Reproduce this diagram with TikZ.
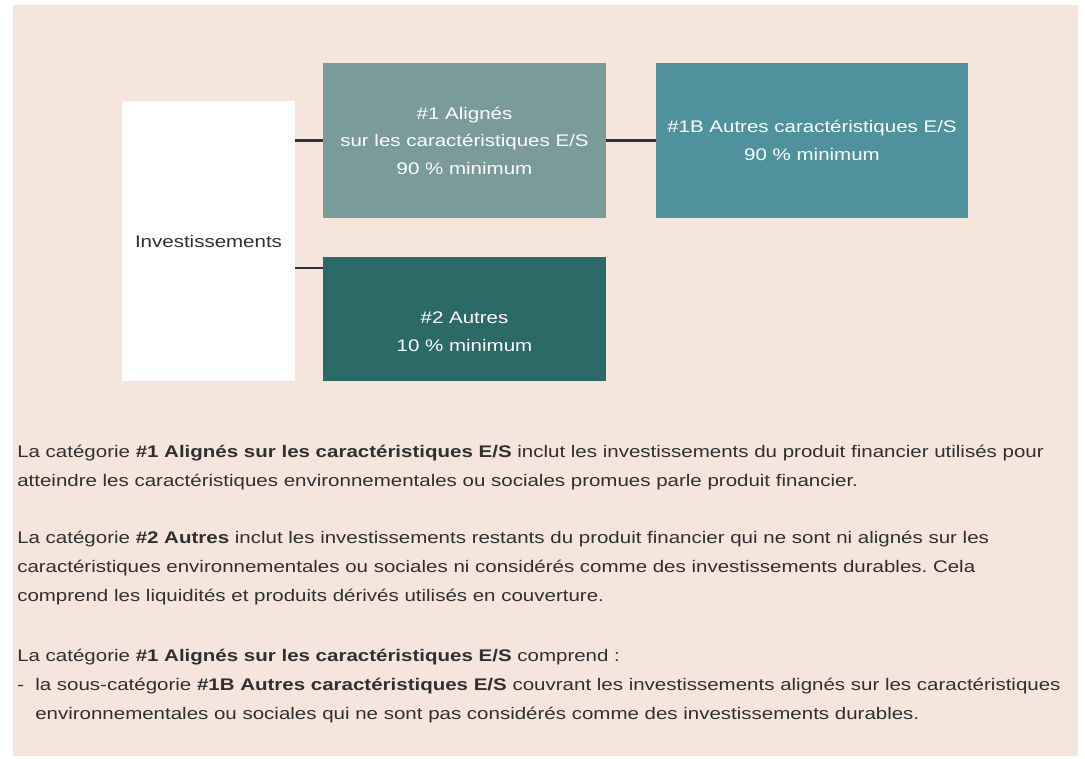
\documentclass[tikz,border=0pt]{standalone}
\usepackage{fontspec}
\setmainfont{Liberation Sans}[FakeStretch=1.22]
\frenchspacing
\definecolor{pagepink}{RGB}{245,229,221}
\definecolor{boxgrey}{RGB}{122,155,154}
\definecolor{boxteal}{RGB}{80,146,156}
\definecolor{boxdark}{RGB}{44,106,103}
\definecolor{inktext}{RGB}{48,48,48}
\definecolor{linkline}{RGB}{48,48,66}

\begin{document}
\begin{tikzpicture}[x=0.75pt,y=0.75pt,yscale=-1,xscale=1,
	catbox/.style={rectangle,inner sep=0pt,text=white,align=center,font=\fontsize{12.6}{20.6}\selectfont},
	para/.style={anchor=base west,inner sep=0pt,align=left,text=inktext,font=\fontsize{12.6}{21.6}\selectfont},
	link/.style={draw=linkline,line width=2pt}]
			\useasboundingbox (0,0) rectangle (1085,758);
			\fill[pagepink] (13,5) rectangle (1078,756);
			\node[catbox,fill=white,text=inktext,minimum width=129.75pt,minimum height=210pt] (inv) at (208.5,241) {Investissements};
			\node[catbox,fill=boxgrey,minimum width=212.25pt,minimum height=116.25pt] (a1) at (464.5,140.5) {\#1 Alignés\\sur les caractéristiques E/S\\90 \% minimum};
			\node[catbox,fill=boxteal,minimum width=234pt,minimum height=116.25pt] (b1) at (812,140.5) {\#1B Autres caractéristiques E/S\\90 \% minimum};
			\node[catbox,fill=boxdark,minimum width=212.25pt,minimum height=93pt] (a2) at (464.5,319) {};
			\node[catbox] (a2t) at (464.5,331.5) {\#2 Autres\\10 \% minimum};
			\coordinate (a2in) at (323,268);
			\draw[link] (inv.east |- a1.west) -- (a1.west);
			\draw[link] (a1.east) -- (b1.west);
			\draw[link] (inv.east |- a2in) -- (a2in);
			\node[para] (p1) at (17,486) {La catégorie \textbf{\#1 Alignés sur les caractéristiques E/S} inclut les investissements du produit financier utilisés pour\\atteindre les caractéristiques environnementales ou sociales promues parle produit financier.};
			\node[para] (p2) at (17,601) {La catégorie \textbf{\#2 Autres} inclut les investissements restants du produit financier qui ne sont ni alignés sur les\\caractéristiques environnementales ou sociales ni considérés comme des investissements durables. Cela\\comprend les liquidités et produits dérivés utilisés en couverture.};
			\node[para] (p3) at (17,719) {La catégorie \textbf{\#1 Alignés sur les caractéristiques E/S} comprend~:\\\makebox[13.5pt][l]{-}la sous-catégorie \textbf{\#1B Autres caractéristiques E/S} couvrant les investissements alignés sur les caractéristiques\\\hspace*{13.5pt}environnementales ou sociales qui ne sont pas considérés comme des investissements durables.};
			\end{tikzpicture}
\end{document}
